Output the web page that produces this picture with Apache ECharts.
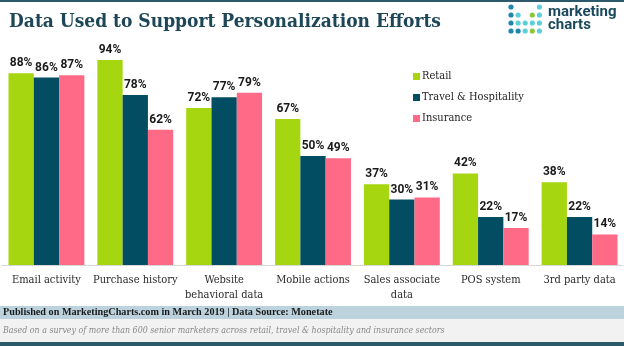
<!DOCTYPE html>
<html>
<head>
<meta charset="utf-8">
<script src="https://cdn.jsdelivr.net/npm/echarts@6/dist/echarts.min.js"></script>
<style>
  html, body { margin: 0; padding: 0; background: #fff; }
  #chart { width: 624px; height: 346px; }
</style>
</head>
<body>
<div id="chart"></div>
<script>
// Share of marketers using each data type, by sector (%)
const categories = [
  'Email activity',
  'Purchase history',
  'Website\nbehavioral data',
  'Mobile actions',
  'Sales associate\ndata',
  'POS system',
  '3rd party data'
];
const seriesNames = ['Retail', 'Travel & Hospitality', 'Insurance'];
const retail    = [88, 94, 72, 67, 37, 42, 38];
const travel    = [86, 78, 77, 50, 30, 22, 22];
const insurance = [87, 62, 79, 49, 31, 17, 14];
const colors = ['#a5d610', '#034d63', '#ff6a87'];

const serif = '"DejaVu Serif Condensed", "DejaVu Serif", serif';

// Logo dot grid, one colour key per dot ('' = empty slot)
const logoRows = [
  ['b', '', '', '', 'c'],
  ['b', 'c', '', 'g', 'c'],
  ['b', 'c', 'c', 'c', 'c'],
  ['b', 'b', 'c', 'g', 'c']
];
const dotColor = { b: '#1f86ad', c: '#5ccfd9', g: '#8cc63f' };

const logoDots = [];
logoRows.forEach((row, r) => {
  row.forEach((k, c) => {
    if (!k) return;
    logoDots.push({
      type: 'circle',
      shape: { cx: 511 + c * 7.1, cy: 7 + r * 8, r: 2.6 },
      style: { fill: dotColor[k] }
    });
  });
});

function barSeries(name, data, color) {
  return {
    name: name,
    type: 'bar',
    data: data,
    barGap: '0%',
    barCategoryGap: '14.6%',
    itemStyle: { color: color },
    label: {
      show: true,
      position: 'top',
      distance: 4,
      formatter: '{c}%',
      fontFamily: 'Roboto, sans-serif',
      fontWeight: 'bold',
      fontSize: 12,
      color: '#1a1a1a'
    }
  };
}

const chart = echarts.init(document.getElementById('chart'), null, { renderer: 'canvas' });
chart.setOption({
  animation: false,
  backgroundColor: '#fff',
  title: {
    text: 'Data Used to Support Personalization Efforts',
    left: 4,
    top: 8,
    textStyle: {
      fontFamily: serif,
      fontWeight: 'bold',
      fontSize: 19,
      color: '#1d4656'
    }
  },
  legend: {
    orient: 'vertical',
    left: 408,
    top: 66,
    itemWidth: 7,
    itemHeight: 7,
    itemGap: 10,
    icon: 'rect',
    data: seriesNames,
    textStyle: { fontFamily: serif, fontSize: 11, color: '#222', padding: [0, 0, 0, -3] }
  },
  grid: { left: 2, right: 0, top: 47, bottom: 81, containLabel: false },
  xAxis: {
    type: 'category',
    data: categories,
    axisTick: { show: false },
    axisLine: { lineStyle: { color: '#cfcfcf', type: 'dotted', width: 1 } },
    axisLabel: {
      interval: 0,
      margin: 8,
      fontFamily: serif,
      fontSize: 11,
      lineHeight: 14.5,
      color: '#2a2a2a'
    }
  },
  yAxis: {
    type: 'value',
    min: 0,
    max: 100,
    show: false,
    splitLine: { show: false }
  },
  series: [
    barSeries(seriesNames[0], retail, colors[0]),
    barSeries(seriesNames[1], travel, colors[1]),
    barSeries(seriesNames[2], insurance, colors[2])
  ],
  graphic: [
    { type: 'rect', shape: { x: 0, y: 0, width: 624, height: 2 }, style: { fill: '#2c5a6b' } },
    { type: 'group', children: logoDots },
    { type: 'text', left: 548, top: 5, style: { text: 'marketing', font: 'bold 15px Roboto, sans-serif', fill: '#1b4a5c' } },
    { type: 'text', left: 548, top: 18, style: { text: 'charts', font: 'bold 15px Roboto, sans-serif', fill: '#1b4a5c' } },
    { type: 'rect', shape: { x: 0, y: 306, width: 624, height: 13 }, style: { fill: '#bcd3de' } },
    { type: 'text', left: 3, top: 307, style: { text: 'Published on MarketingCharts.com in March 2019 | Data Source: Monetate', font: 'bold 10.2px "Liberation Serif", serif', fill: '#1a1a1a' } },
    { type: 'rect', shape: { x: 0, y: 319, width: 624, height: 23 }, style: { fill: '#f2f2f2' } },
    { type: 'text', left: 3, top: 326, style: { text: 'Based on a survey of more than 600 senior marketers across retail, travel & hospitality and insurance sectors', font: 'italic 8.8px "DejaVu Serif Condensed", "DejaVu Serif", serif', fill: '#888' } },
    { type: 'rect', shape: { x: 0, y: 342, width: 624, height: 4 }, style: { fill: '#2c5a6b' } }
  ]
});
</script>
</body>
</html>
